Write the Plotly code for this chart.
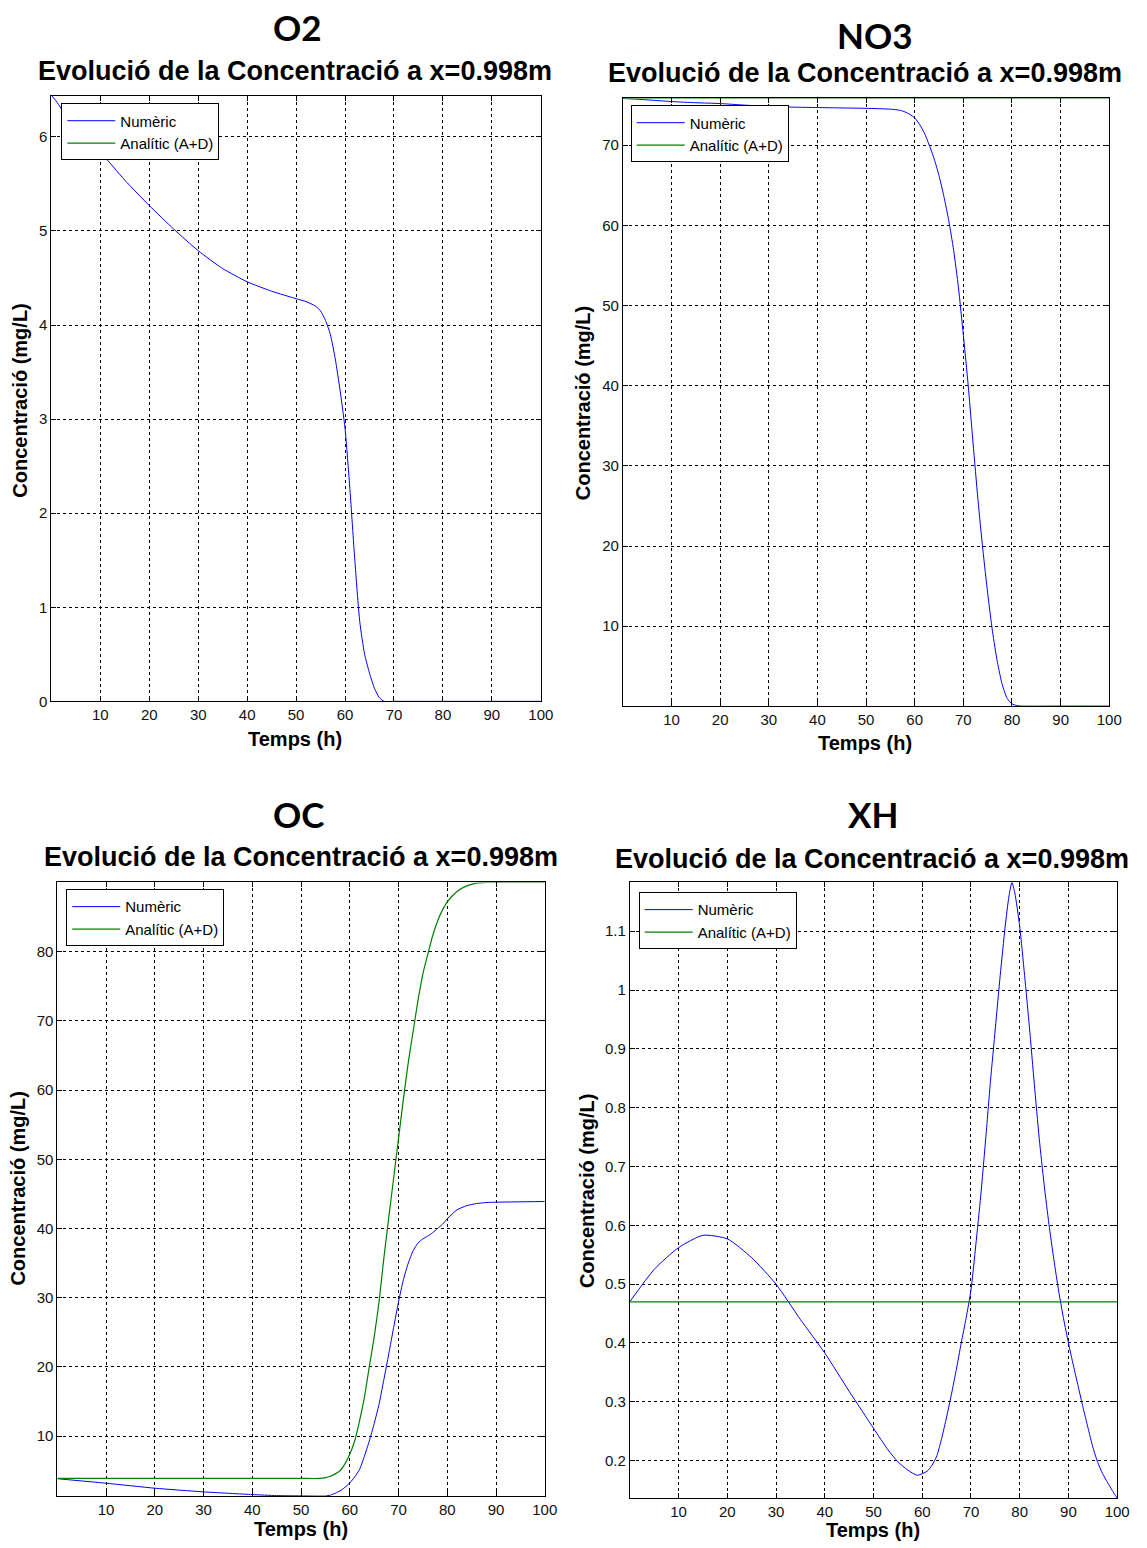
import plotly.graph_objects as go

W, H = 1147, 1548

# ---------------- data ----------------
# O2
o2_t = [0, 1, 2, 5, 10, 15, 20, 25, 30, 35, 40, 45, 50, 52, 54, 55, 56, 57, 58, 59, 60, 61, 62, 63, 64, 65, 66, 67, 68, 70, 80, 90, 100]
o2_num = [6.44, 6.38, 6.3, 6.1, 5.84, 5.54, 5.27, 5.02, 4.79, 4.6, 4.46, 4.36, 4.28, 4.25, 4.2, 4.15, 4.05, 3.9, 3.64, 3.3, 2.9, 2.25, 1.5, 0.85, 0.5, 0.3, 0.14, 0.04, 0.0, 0.0, 0.0, 0.0, 0.0]
o2_ana_t = [0, 100]
o2_ana = [6.44, 6.44]

# NO3
no3_t = [0, 4, 10, 15, 20, 25, 30, 35, 40, 45, 50, 55, 57, 58, 59, 60, 61, 62, 63, 64, 65, 66, 67, 68, 69, 70, 71, 72, 73, 74, 75, 76, 77, 78, 79, 80, 81, 82, 90, 100]
no3_num = [75.83, 75.7, 75.45, 75.3, 75.2, 75.0, 74.85, 74.75, 74.7, 74.65, 74.6, 74.5, 74.35, 74.15, 73.85, 73.4, 72.6, 71.5, 70.0, 68.3, 66.2, 63.6, 60.6, 56.9, 52.2, 46.3, 40.0, 32.8, 25.8, 19.6, 14.1, 9.3, 5.5, 2.7, 1.0, 0.3, 0.1, 0.03, 0.03, 0.03]
no3_ana_t = [0, 100]
no3_ana = [75.83, 75.83]

# OC
oc_t = [0, 10, 20, 30, 40, 45, 50, 55, 56, 57, 58, 59, 60, 61, 62, 63, 64, 65, 66, 67, 68, 69, 70, 71, 72, 73, 74, 75, 76, 77, 78, 79, 80, 82, 84, 86, 88, 90, 100]
oc_num = [3.85, 3.2, 2.48, 1.95, 1.56, 1.41, 1.37, 1.35, 1.48, 1.75, 2.1, 2.6, 3.25, 4.1, 5.2, 7.1, 9.3, 11.8, 14.6, 18.2, 21.9, 25.7, 29.4, 32.6, 35.0, 36.8, 37.9, 38.5, 38.9, 39.4, 40.0, 40.6, 41.4, 42.7, 43.3, 43.6, 43.75, 43.8, 43.9]
oc_ana_t = [0, 10, 20, 30, 40, 50, 53.8, 55, 56, 57, 58, 59, 60, 61, 62, 63, 64, 65, 66, 67, 68, 69, 70, 71, 72, 73, 74, 75, 76, 77, 78, 79, 80, 82, 84, 86, 88, 90, 100]
oc_ana = [3.89, 3.89, 3.89, 3.89, 3.89, 3.89, 3.89, 4.0, 4.2, 4.55, 5.0, 6.0, 7.4, 9.3, 12.2, 15.6, 20.0, 24.3, 29.4, 35.8, 41.6, 47.3, 53.0, 58.7, 64.0, 68.5, 73.0, 76.8, 79.6, 82.3, 84.4, 86.0, 87.2, 88.7, 89.5, 89.9, 90.0, 90.0, 90.0]

# XH
xh_t = [0, 5, 10, 15, 20, 25, 30, 35, 40, 45, 50, 53, 55, 57, 59, 61, 62, 63, 64, 65, 66, 67, 68, 69, 70, 71, 72, 73, 74, 75, 76, 77, 77.8, 78.4, 79, 80, 81, 82, 83, 84, 85, 86, 87, 88, 89, 90, 91, 92, 93, 94, 95, 96, 97, 98, 99, 100]
xh_num = [0.47, 0.525, 0.562, 0.583, 0.577, 0.545, 0.50, 0.44, 0.383, 0.318, 0.255, 0.218, 0.198, 0.184, 0.175, 0.182, 0.192, 0.208, 0.238, 0.274, 0.313, 0.355, 0.4, 0.442, 0.49, 0.567, 0.65, 0.745, 0.845, 0.935, 1.025, 1.107, 1.16, 1.183, 1.165, 1.108, 1.025, 0.936, 0.84, 0.748, 0.67, 0.602, 0.542, 0.488, 0.441, 0.4, 0.362, 0.326, 0.29, 0.256, 0.223, 0.197, 0.178, 0.163, 0.149, 0.136]
xh_ana_t = [0, 100]
xh_ana = [0.47, 0.47]

x_ticks = [10, 20, 30, 40, 50, 60, 70, 80, 90, 100]
o2_yticks = [0, 1, 2, 3, 4, 5, 6]
no3_yticks = [10, 20, 30, 40, 50, 60, 70]
oc_yticks = [10, 20, 30, 40, 50, 60, 70, 80]
xh_yticks = [0.2, 0.3, 0.4, 0.5, 0.6, 0.7, 0.8, 0.9, 1.0, 1.1]
xh_yticktext = ["0.2", "0.3", "0.4", "0.5", "0.6", "0.7", "0.8", "0.9", "1", "1.1"]

species = ["O2", "NO3", "OC", "XH"]
subtitle = "Evolució de la Concentració a x=0.998m"
xlabel = "Temps (h)"
ylabel = "Concentració (mg/L)"
name_num = "Numèric"
name_ana = "Analític (A+D)"

BLUE = "#0000ff"
GREEN = "#008000"

# ---------------- layout geometry (pixels) ----------------
boxes = [(52, 547, 96, 705), (630, 1122, 99, 710), (58, 551, 887, 1504), (637, 1130, 887, 1506)]
yranges = [[0, 6.44], [0, 75.83], [1.32, 90.0], [0.136, 1.183]]
yticks = [(o2_yticks, [str(v) for v in o2_yticks]),
          (no3_yticks, [str(v) for v in no3_yticks]),
          (oc_yticks, [str(v) for v in oc_yticks]),
          (xh_yticks, xh_yticktext)]
big_title_pos = [(301, 27), (885, 35), (302, 818), (883, 818)]
sub_title_pos = [(298, 71), (875, 73), (304, 861), (882, 863)]
xlabel_pos = [(298, 743), (875, 747), (304, 1537), (883, 1538)]
ylabel_pos = [(20, 403), (590, 405), (18, 1195), (594, 1197)]
legend_pos = [(62, 104), (638, 106), (67, 894), (646, 897)]

datasets = [
    (o2_t, o2_num, o2_ana_t, o2_ana),
    (no3_t, no3_num, no3_ana_t, no3_ana),
    (oc_t, oc_num, oc_ana_t, oc_ana),
    (xh_t, xh_num, xh_ana_t, xh_ana),
]

fig = go.Figure()
layout = dict(width=W, height=H, margin=dict(l=0, r=0, t=0, b=0),
              paper_bgcolor="white", plot_bgcolor="white", showlegend=True,
              font=dict(family="Liberation Sans, Arial", color="black"))
annotations = []

for i, (tn, vn, ta, va) in enumerate(datasets):
    k = "" if i == 0 else str(i + 1)
    leg = "legend" if i == 0 else f"legend{i + 1}"
    fig.add_trace(go.Scatter(x=tn, y=vn, mode="lines", name=name_num,
                             line=dict(color=BLUE, width=1, shape="spline", smoothing=0.6),
                             xaxis="x" + k, yaxis="y" + k, legend=leg))
    fig.add_trace(go.Scatter(x=ta, y=va, mode="lines", name=name_ana,
                             line=dict(color=GREEN, width=1.2, shape="spline", smoothing=0.6),
                             xaxis="x" + k, yaxis="y" + k, legend=leg))
    l, r, t, b = boxes[i]
    axcommon = dict(showline=True, linecolor="black", linewidth=1, mirror="ticks",
                    ticks="inside", ticklen=5, tickcolor="black",
                    showgrid=True, gridcolor="black", gridwidth=1, griddash="3px,3px",
                    zeroline=False, tickfont=dict(family="Liberation Sans, Arial", size=15, color="#111"))
    layout["xaxis" + k] = dict(axcommon, domain=[l / W, r / W], range=[0, 100],
                               anchor="y" + k, tickvals=x_ticks, ticktext=[str(v) for v in x_ticks])
    tv, tt = yticks[i]
    layout["yaxis" + k] = dict(axcommon, domain=[1 - b / H, 1 - t / H], range=yranges[i],
                               anchor="x" + k, tickvals=tv, ticktext=tt)
    lx, ly = legend_pos[i]
    layout[leg] = dict(x=lx / W, y=1 - ly / H, xanchor="left", yanchor="top",
                       bgcolor="white", bordercolor="black", borderwidth=1,
                       font=dict(family="Liberation Sans, Arial", size=15, color="black"),
                       tracegroupgap=0, itemwidth=48)
    bx, by = big_title_pos[i]
    annotations.append(dict(text=species[i], x=bx / W, y=1 - by / H, xref="paper", yref="paper",
                            xanchor="center", yanchor="middle", showarrow=False,
                            font=dict(family="Lato, Open Sans", size=35, color="black", weight="bold")))
    sx, sy = sub_title_pos[i]
    annotations.append(dict(text=subtitle, x=sx / W, y=1 - sy / H, xref="paper", yref="paper",
                            xanchor="center", yanchor="middle", showarrow=False,
                            font=dict(family="Liberation Sans, Arial", size=27, color="black", weight="bold")))
    xx, xy = xlabel_pos[i]
    annotations.append(dict(text=xlabel, x=xx / W, y=1 - xy / H, xref="paper", yref="paper",
                            xanchor="center", yanchor="middle", showarrow=False,
                            font=dict(family="Liberation Sans, Arial", size=20, color="black", weight="bold")))
    yx, yy = ylabel_pos[i]
    annotations.append(dict(text=ylabel, x=yx / W, y=1 - yy / H, xref="paper", yref="paper",
                            xanchor="center", yanchor="middle", showarrow=False, textangle=-90,
                            font=dict(family="Liberation Sans, Arial", size=20, color="black", weight="bold")))

layout["annotations"] = annotations
fig.update_layout(**layout)
fig.write_html("out.html")
